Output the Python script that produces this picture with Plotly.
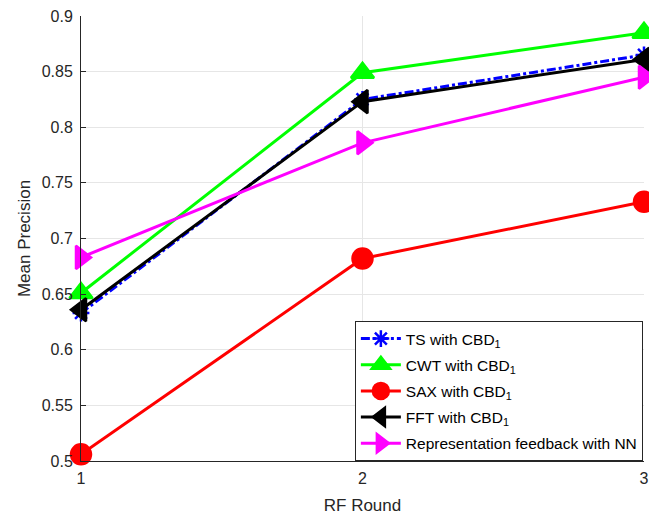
import plotly.graph_objects as go

rounds = [1, 2, 3]
ts = [0.633, 0.825, 0.865]
cwt = [0.651, 0.849, 0.885]
sax = [0.506, 0.682, 0.733]
fft = [0.636, 0.823, 0.861]
rep = [0.683, 0.786, 0.845]
yticks = [0.5, 0.55, 0.6, 0.65, 0.7, 0.75, 0.8, 0.85, 0.9]

series = [
    ("TS with CBD<sub>1</sub>", ts, "#0000ff", "dashdot", "asterisk-open", 14),
    ("CWT with CBD<sub>1</sub>", cwt, "#00ff00", "solid", "triangle-up", 20),
    ("SAX with CBD<sub>1</sub>", sax, "#ff0000", "solid", "circle", 20),
    ("FFT with CBD<sub>1</sub>", fft, "#000000", "solid", "triangle-left", 20),
    ("Representation feedback with NN", rep, "#ff00ff", "solid", "triangle-right", 20),
]

fig = go.Figure()
for i, (name, vals, col, dash, sym, sz) in enumerate(series):
    fig.add_trace(go.Scatter(
        x=rounds, y=vals, name=name, mode="lines+markers",
        legendgroup=f"g{i}",
        line=dict(color=col, width=3, dash=dash),
        marker=dict(symbol=sym, size=sz, color=col, line=dict(color=col, width=2.5)),
        cliponaxis=False,
    ))

fig.update_layout(
    template="none",
    width=649, height=507,
    margin=dict(l=73, r=13, t=8, b=54, autoexpand=False),
    plot_bgcolor="white", paper_bgcolor="white",
    font=dict(family="Arial, Liberation Sans, sans-serif", size=16, color="#262626"),
    showlegend=True,
    legend=dict(
        x=0.998, y=0.0, xanchor="right", yanchor="bottom",
        bgcolor="white", bordercolor="#262626", borderwidth=1,
        font=dict(size=15.5, color="#000000"),
        itemwidth=40, tracegroupgap=3,
    ),
)
fig.update_xaxes(
    range=[1, 3], tickvals=rounds, ticktext=[str(r) for r in rounds],
    showgrid=True, gridcolor="#e6e6e6", gridwidth=1,
    showline=True, linecolor="#262626", linewidth=1,
    ticks="inside", ticklen=5, tickcolor="#262626",
    zeroline=False, tickfont=dict(size=16), automargin=False,
    ticklabeloverflow="allow", ticklabelstandoff=3,
    title=dict(text="RF Round", font=dict(size=17), standoff=13),
)
fig.update_yaxes(
    range=[0.5, 0.9], tickvals=yticks, ticktext=[f"{v:g}" for v in yticks],
    showgrid=True, gridcolor="#e6e6e6", gridwidth=1,
    showline=True, linecolor="#262626", linewidth=1,
    ticks="inside", ticklen=5, tickcolor="#262626",
    zeroline=False, tickfont=dict(size=16), automargin=False,
    ticklabeloverflow="allow", ticklabelstandoff=4,
    title=dict(text="Mean Precision", font=dict(size=17), standoff=6),
)
fig.write_html("out.html")
